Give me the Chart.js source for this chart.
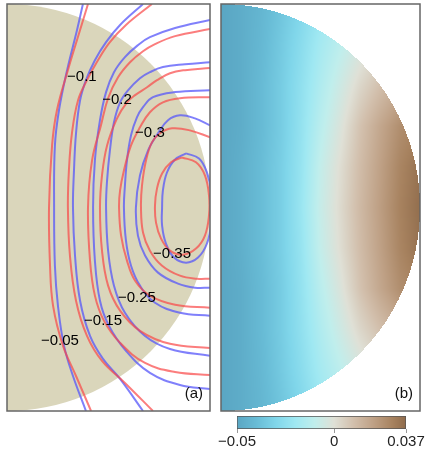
<!DOCTYPE html>
<html><head><meta charset="utf-8">
<script src="https://cdn.jsdelivr.net/npm/chart.js@4/dist/chart.umd.min.js"></script>
<style>
html,body{margin:0;padding:0;background:#fff;width:425px;height:457px;overflow:hidden}
canvas{position:absolute}
</style></head><body>
<canvas id="ca" width="215" height="415" style="left:0;top:0;width:215px;height:415px"></canvas>
<canvas id="cb" width="210" height="415" style="left:215px;top:0;width:210px;height:415px"></canvas>
<canvas id="cc" width="210" height="49" style="left:215px;top:408px;width:210px;height:49px"></canvas>
<script>
// ---- contour levels (panel a), coordinates r/R (x) and z/R (y) ----
const levels = [-0.05, -0.1, -0.15, -0.2, -0.25, -0.3, -0.35];
const levelText = ['\u22120.05','\u22120.1','\u22120.15','\u22120.2','\u22120.25','\u22120.3','\u22120.35'];
const labelX = [0.261, 0.369, 0.473, 0.542, 0.640, 0.704, 0.813];
const labelY = [-0.655, 0.640, -0.557, 0.527, -0.443, 0.365, -0.227];

const blueLines = [
 [[0.374,1],[0.345,0.872],[0.296,0.675],[0.256,0.478],[0.236,0.305],[0.232,0],[0.236,-0.286],[0.251,-0.483],[0.281,-0.680],[0.325,-0.828],[0.389,-1]],
 [[0.670,1],[0.557,0.897],[0.488,0.813],[0.433,0.724],[0.389,0.626],[0.360,0.527],[0.340,0.365],[0.330,0.182],[0.325,0],[0.335,-0.236],[0.360,-0.458],[0.409,-0.631],[0.473,-0.744],[0.557,-0.842],[0.670,-1]],
 [[1,0.921],[0.828,0.882],[0.704,0.837],[0.645,0.798],[0.581,0.739],[0.527,0.665],[0.488,0.567],[0.458,0.429],[0.433,0.232],[0.424,0],[0.433,-0.261],[0.458,-0.458],[0.502,-0.581],[0.586,-0.704],[0.704,-0.813],[0.852,-0.872],[1,-0.892]],
 [[1,0.714],[0.877,0.704],[0.768,0.690],[0.704,0.665],[0.655,0.635],[0.596,0.576],[0.557,0.517],[0.527,0.419],[0.507,0.281],[0.493,0.133],[0.488,0],[0.498,-0.212],[0.527,-0.384],[0.581,-0.517],[0.680,-0.631],[0.803,-0.695],[1,-0.729]],
 [[1,0.576],[0.828,0.567],[0.719,0.542],[0.670,0.493],[0.640,0.443],[0.611,0.355],[0.591,0.232],[0.581,0.108],[0.576,0],[0.586,-0.163],[0.611,-0.286],[0.655,-0.384],[0.729,-0.468],[0.852,-0.517],[1,-0.532]],
 [[1,0.404],[0.926,0.438],[0.852,0.453],[0.793,0.429],[0.744,0.365],[0.695,0.281],[0.655,0.158],[0.635,0],[0.645,-0.138],[0.680,-0.236],[0.744,-0.320],[0.842,-0.374],[0.926,-0.394],[1,-0.394]],
 [[0.882,0.266],[0.946,0.241],[0.985,0.172],[1.005,0.074],[1.005,-0.074],[0.985,-0.177],[0.941,-0.246],[0.882,-0.271],[0.823,-0.246],[0.783,-0.177],[0.764,-0.089],[0.764,0],[0.768,0.084],[0.788,0.172],[0.828,0.236],[0.882,0.266]]
];
const redLines = [
 [[0.399,1],[0.360,0.872],[0.300,0.675],[0.246,0.478],[0.222,0.305],[0.207,0],[0.212,-0.286],[0.227,-0.483],[0.276,-0.680],[0.340,-0.828],[0.414,-1]],
 [[0.714,1],[0.586,0.897],[0.507,0.813],[0.448,0.724],[0.394,0.626],[0.350,0.527],[0.320,0.365],[0.305,0.182],[0.300,0],[0.310,-0.236],[0.340,-0.458],[0.394,-0.631],[0.468,-0.754],[0.581,-0.862],[0.719,-1]],
 [[1,0.877],[0.828,0.842],[0.729,0.803],[0.670,0.768],[0.606,0.714],[0.547,0.640],[0.498,0.537],[0.463,0.404],[0.419,0.232],[0.399,0],[0.409,-0.261],[0.433,-0.433],[0.478,-0.557],[0.557,-0.665],[0.680,-0.764],[0.828,-0.808],[1,-0.823]],
 [[1,0.685],[0.877,0.675],[0.803,0.660],[0.739,0.626],[0.690,0.591],[0.631,0.552],[0.591,0.517],[0.542,0.438],[0.493,0.305],[0.468,0.158],[0.458,0],[0.468,-0.212],[0.498,-0.384],[0.557,-0.507],[0.655,-0.606],[0.803,-0.670],[1,-0.690]],
 [[1,0.542],[0.852,0.537],[0.768,0.517],[0.704,0.468],[0.655,0.394],[0.611,0.305],[0.576,0.182],[0.557,0.084],[0.552,0],[0.562,-0.138],[0.591,-0.261],[0.631,-0.360],[0.704,-0.433],[0.828,-0.478],[1,-0.493]],
 [[1,0.345],[0.901,0.379],[0.813,0.389],[0.754,0.365],[0.714,0.320],[0.685,0.232],[0.665,0.108],[0.660,0],[0.670,-0.123],[0.704,-0.212],[0.764,-0.286],[0.852,-0.335],[0.936,-0.350],[1,-0.350]],
 [[0.862,0.246],[0.931,0.222],[0.975,0.158],[0.995,0.059],[0.995,-0.039],[0.975,-0.138],[0.931,-0.202],[0.867,-0.232],[0.803,-0.212],[0.759,-0.153],[0.734,-0.074],[0.729,0.010],[0.739,0.094],[0.764,0.167],[0.808,0.222],[0.862,0.246]]
];

// ---- density field (panel b), values read on a grid of r/R and |z|/R ----
const fieldX = [0,0.1,0.2,0.3,0.4,0.5,0.6,0.7,0.8,0.9,1.0];
const fieldY = [0,0.2,0.4,0.6,0.8,1.0];
const fieldRow0  = [-0.050,-0.046,-0.040,-0.033,-0.022,-0.008,0.002,0.012,0.021,0.030,0.036];
const fieldRow02 = [-0.050,-0.046,-0.040,-0.033,-0.023,-0.009,0.001,0.011,0.020,0.029,0.035];
const fieldRow04 = [-0.050,-0.047,-0.041,-0.034,-0.024,-0.012,-0.002,0.009,0.018,0.026,0.030];
const fieldRow06 = [-0.050,-0.047,-0.041,-0.034,-0.025,-0.015,-0.006,0.003,0.010,0.016,0.020];
const fieldRow08 = [-0.050,-0.047,-0.042,-0.035,-0.027,-0.018,-0.011,-0.004,0.002,0.008,0.012];
const fieldRow10 = [-0.050,-0.047,-0.043,-0.037,-0.030,-0.022,-0.015,-0.008,-0.002,0.004,0.008];

// ---- colour bar ----
const colorbarStops  = [-0.05,-0.04,-0.03,-0.02,-0.01,0,0.01,0.02,0.03,0.037];
const colorbarColors = ['#5aa6c3','#68bcd6','#80d6ea','#9fe8f2','#c0eeec','#dfe0d6','#d2bfac','#bfa186','#a7825f','#8f6b4b'];
const colorbarTicks  = [-0.05, 0, 0.037];

const FONT = "'Liberation Sans', Arial, sans-serif";
const BLUE = 'rgba(85,85,250,0.75)';
const RED  = 'rgba(250,70,70,0.7)';

function hexRgb(h){return [parseInt(h.slice(1,3),16),parseInt(h.slice(3,5),16),parseInt(h.slice(5,7),16)];}
const cbRgb = colorbarColors.map(hexRgb);
function colorOf(v){
  const s = colorbarStops;
  if (v <= s[0]) return cbRgb[0];
  if (v >= s[s.length-1]) return cbRgb[s.length-1];
  let i = 0; while (v > s[i+1]) i++;
  const t = (v - s[i])/(s[i+1]-s[i]);
  const a = cbRgb[i], b = cbRgb[i+1];
  return [a[0]+(b[0]-a[0])*t, a[1]+(b[1]-a[1])*t, a[2]+(b[2]-a[2])*t];
}
const fieldRows = [fieldRow0, fieldRow02, fieldRow04, fieldRow06, fieldRow08, fieldRow10];
function fieldAt(x, y){
  const fx = Math.min(Math.max(x,0),1)*(fieldX.length-1);
  const fy = Math.min(Math.max(y,0),1)*(fieldY.length-1);
  const i = Math.min(Math.floor(fx), fieldX.length-2), j = Math.min(Math.floor(fy), fieldY.length-2);
  const tx = fx - i, ty = fy - j;
  const a = fieldRows[j][i]*(1-tx) + fieldRows[j][i+1]*tx;
  const b = fieldRows[j+1][i]*(1-tx) + fieldRows[j+1][i+1]*tx;
  return a*(1-ty) + b*ty;
}

const framePlugin = {
  id:'frame',
  afterDraw(chart){
    const {ctx, chartArea:a} = chart;
    ctx.save(); ctx.strokeStyle = '#666'; ctx.lineWidth = 1.5;
    ctx.strokeRect(a.left, a.top, a.right-a.left, a.bottom-a.top);
    ctx.restore();
  }
};
function panelTag(text){
  return {
    id:'tag',
    afterDatasetsDraw(chart){
      const {ctx, chartArea:a} = chart;
      ctx.save(); ctx.fillStyle = '#111'; ctx.font = '15px '+FONT;
      ctx.textAlign = 'right'; ctx.textBaseline = 'middle';
      ctx.fillText(text, a.right - 7, a.bottom - 17);
      ctx.restore();
    }
  };
}
const diskPlugin = {
  id:'disk',
  beforeDatasetsDraw(chart){
    const {ctx, scales:{x,y}, chartArea:a} = chart;
    const cx = x.getPixelForValue(0), cy = y.getPixelForValue(0);
    const rx = x.getPixelForValue(1) - cx, ry = cy - y.getPixelForValue(1);
    ctx.save(); ctx.beginPath(); ctx.rect(a.left,a.top,a.right-a.left,a.bottom-a.top); ctx.clip();
    ctx.fillStyle = '#dad6bb';
    ctx.beginPath(); ctx.ellipse(cx, cy, rx, ry, 0, -Math.PI/2, Math.PI/2); ctx.closePath(); ctx.fill();
    ctx.restore();
  }
};
const labelPlugin = {
  id:'labels',
  afterDatasetsDraw(chart){
    const {ctx, scales:{x,y}} = chart;
    ctx.save(); ctx.fillStyle = '#000'; ctx.font = '15px '+FONT;
    ctx.textAlign = 'center'; ctx.textBaseline = 'middle';
    levelText.forEach((t,i)=>ctx.fillText(t, x.getPixelForValue(labelX[i]), y.getPixelForValue(labelY[i])));
    ctx.restore();
  }
};
const densityPlugin = {
  id:'density',
  beforeDatasetsDraw(chart){
    const {ctx, chartArea:a, scales:{x,y}} = chart;
    const L = Math.round(a.left), T = Math.round(a.top);
    const w = Math.round(a.right) - L, h = Math.round(a.bottom) - T;
    const img = ctx.createImageData(w, h);
    for (let j=0;j<h;j++){
      const vy = y.getValueForPixel(T+j+0.5);
      for (let i=0;i<w;i++){
        const vx = x.getValueForPixel(L+i+0.5);
        if (vx*vx + vy*vy > 1) continue;
        const c = colorOf(fieldAt(vx, Math.abs(vy)));
        const k = 4*(j*w+i);
        img.data[k]=c[0]; img.data[k+1]=c[1]; img.data[k+2]=c[2]; img.data[k+3]=255;
      }
    }
    ctx.putImageData(img, L, T);
  }
};

const datasetsA = [];
levels.forEach((lv,i)=>{
  datasetsA.push({label:'red '+lv, data: redLines[i].map(p=>({x:p[0],y:p[1]})), borderColor: RED});
  datasetsA.push({label:'blue '+lv, data: blueLines[i].map(p=>({x:p[0],y:p[1]})), borderColor: BLUE});
});
datasetsA.forEach(d=>{ d.showLine = true; d.pointRadius = 0; d.borderWidth = 2; d.tension = 0.4; d.clip = 0; d.fill = false; });

const common = {
  responsive:false, animation:false, devicePixelRatio:1,
  events: [],
  plugins:{legend:{display:false}, tooltip:{enabled:false}}
};

new Chart(document.getElementById('ca'), {
  type:'scatter',
  data:{datasets: datasetsA},
  options:{...common,
    layout:{padding:{left:7, top:4, right:5, bottom:4}},
    scales:{x:{type:'linear', min:0, max:1, display:false}, y:{type:'linear', min:-1, max:1, display:false}}
  },
  plugins:[diskPlugin, labelPlugin, panelTag('(a)'), framePlugin]
});

new Chart(document.getElementById('cb'), {
  type:'scatter',
  data:{datasets: []},
  options:{...common,
    layout:{padding:{left:6, top:4, right:5, bottom:4}},
    scales:{x:{type:'linear', min:0, max:1, display:false}, y:{type:'linear', min:-1, max:1, display:false}}
  },
  plugins:[densityPlugin, panelTag('(b)'), framePlugin]
});

function fmt(v){ return v < 0 ? '\u2212' + String(Math.abs(v)) : String(v); }
new Chart(document.getElementById('cc'), {
  type:'bar',
  data:{labels:[''], datasets:[{
    data:[[colorbarStops[0], colorbarStops[colorbarStops.length-1]]],
    backgroundColor:(c)=>{
      const ch = c.chart; if (!ch.chartArea) return '#ccc';
      const xs = ch.scales.x; const x0 = xs.getPixelForValue(colorbarStops[0]), x1 = xs.getPixelForValue(colorbarStops[colorbarStops.length-1]);
      const g = ch.ctx.createLinearGradient(x0,0,x1,0);
      const lo = colorbarStops[0], hi = colorbarStops[colorbarStops.length-1];
      colorbarStops.forEach((s,i)=>g.addColorStop((s-lo)/(hi-lo), colorbarColors[i]));
      return g;
    },
    borderColor:'#555', borderWidth:1, borderSkipped:false, barPercentage:1, categoryPercentage:1
  }]},
  options:{...common, indexAxis:'y',
    layout:{padding:{left:22, right:19, top:8, bottom:0}},
    scales:{
      x:{type:'linear', min:-0.05, max:0.037, position:'bottom',
         grid:{display:true, drawOnChartArea:false, drawTicks:true, tickLength:4, color:'#999'},
         border:{display:false},
         ticks:{font:{size:15, family:FONT}, color:'#222', padding:0, autoSkip:false, maxRotation:0, callback:(v)=>fmt(v)},
         afterBuildTicks:(s)=>{ s.ticks = colorbarTicks.map(v=>({value:v})); },
         afterFit:(s)=>{ s.height = 28; s.paddingLeft = 0; s.paddingRight = 0; }
      },
      y:{display:false}
    }
  }
});
</script>
</body></html>
